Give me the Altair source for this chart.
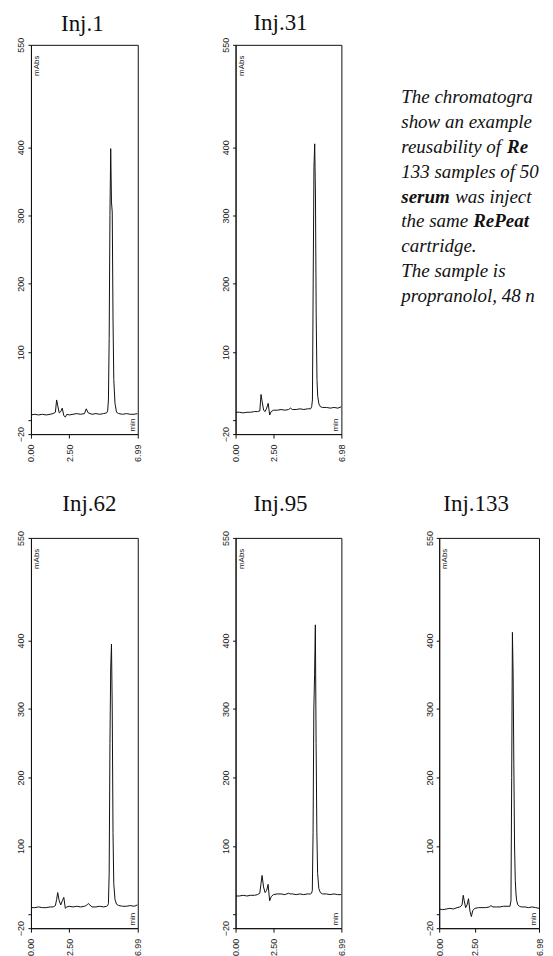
import altair as alt
import pandas as pd

# ---------------- data ----------------
times = [0.00, 0.25, 0.50, 0.75, 1.00, 1.25, 1.45, 1.60, 1.68, 1.75, 1.85, 1.95,
         2.05, 2.15, 2.25, 2.35, 2.50, 2.75, 3.00, 3.25, 3.50, 3.62, 3.75, 4.00,
         4.25, 4.50, 4.75, 4.95, 5.02, 5.07, 5.12, 5.17, 5.22, 5.27, 5.32, 5.37,
         5.42, 5.50, 5.60, 5.75, 6.00, 6.25, 6.50, 6.75, 6.98]

inj1 = [8, 9, 8, 9, 8, 9, 10, 12, 30, 22, 11, 13, 18, 7, 5, 9, 8, 9, 10, 9, 10, 17,
        11, 9, 10, 9, 10, 11, 14, 30, 120, 300, 398, 320, 305, 150, 60, 25, 12, 10,
        9, 10, 9, 9, 10]
inj31 = [12, 12, 11, 12, 12, 13, 13, 14, 38, 28, 15, 13, 18, 25, 8, 13, 15, 15, 16,
         15, 16, 18, 16, 16, 17, 16, 17, 17, 20, 30, 200, 370, 405, 330, 150, 60, 35,
         24, 20, 19, 19, 18, 19, 18, 20]
inj62 = [10, 10, 11, 10, 10, 11, 11, 13, 22, 32, 20, 14, 20, 25, 9, 11, 12, 11, 12,
         11, 12, 13, 16, 11, 11, 12, 11, 12, 13, 16, 60, 250, 360, 395, 300, 120, 45,
         22, 15, 13, 12, 12, 13, 12, 14]
inj95 = [27, 27, 28, 27, 28, 28, 29, 31, 45, 57, 40, 32, 35, 44, 20, 26, 29, 30, 30,
         29, 31, 30, 30, 29, 30, 29, 30, 30, 31, 35, 120, 300, 350, 423, 250, 120, 60,
         38, 32, 30, 30, 29, 30, 29, 29]
inj133 = [8, 7, 8, 9, 8, 10, 11, 14, 28, 20, 10, 14, 23, 5, -3, 6, 9, 10, 10, 10, 11,
          13, 11, 11, 11, 12, 12, 12, 20, 200, 412, 350, 220, 100, 50, 30, 20, 14, 12,
          11, 11, 10, 11, 10, 9]

panel_names = ["Inj.1", "Inj.31", "Inj.62", "Inj.95", "Inj.133"]
run_end = [6.99, 6.98, 6.99, 6.99, 6.98]
y_ticks = [-20, 0, 100, 200, 300, 400, 550]
y_unit = "mAbs"
x_unit = "min"

seg_line = [0, 1, 2, 2, 3, 4, 4, 5, 5, 6, 7, 8]
seg_text = ["The chromatograms", "show an example of the", "reusability of", "RePeat.",
            "133 samples of 50 µl", "serum", "was injected on", "the same", "RePeat",
            "cartridge.", "The sample is", "propranolol, 48 ng/ml"]
seg_bold = [False, False, False, True, False, True, False, False, True, False, False, False]

# ---------------- layout constants ----------------
seg_x = [0, 0, 0, 106, 0, 0, 54, 0, 72, 0, 0, 0]
COL_W = [107, 106, 100]
TOP_H, BOT_H = 390, 391
NOTE_DX = -38          # note starts left of the third column's frame
NOTE_Y0 = 58           # baseline of first note line, below the row top
NOTE_ROOM = 143        # visible width of the note before the page edge


def panel(title, vals, t_end, w, h, toff, tdx):
    df = pd.DataFrame({"t": times, "v": vals})
    x = alt.X("t:Q",
              scale=alt.Scale(domain=[0, t_end], nice=False, zero=False),
              axis=alt.Axis(values=[0, 2.5, t_end], format=".2f", labelAngle=270,
                            labelAlign="right", labelBaseline="middle",
                            title=None, tickSize=4, labelPadding=6, labelFlush=False,
                            labelOverlap=False))
    y = alt.Y("v:Q",
              scale=alt.Scale(domain=[-20, 550], nice=False, zero=False),
              axis=alt.Axis(values=y_ticks,
                            labelExpr="datum.value === 0 ? '' : datum.label",
                            labelAngle=270, labelAlign="center", labelBaseline="bottom",
                            title=None, tickSize=3, labelPadding=2,
                            labelFlush=False, labelOverlap=False))
    trace = alt.Chart(df).mark_line(color="#111", strokeWidth=1, clip=True).encode(x=x, y=y)
    one = pd.DataFrame({"k": [0]})
    small = dict(angle=270, font="Liberation Sans", fontSize=8, color="#222",
                 align="center", baseline="middle")
    mabs = alt.Chart(one).mark_text(**small).encode(
        x=alt.value(6), y=alt.value(21), text=alt.value(y_unit))
    mins = alt.Chart(one).mark_text(**small).encode(
        x=alt.value(w - 5), y=alt.value(h - 9), text=alt.value(x_unit))
    ttl = alt.Chart(one).mark_text(font="Liberation Serif", fontSize=23, color="#111",
                                   align="center", baseline="alphabetic").encode(
        x=alt.value(w / 2 + tdx), y=alt.value(-toff), text=alt.value(title))
    return alt.layer(trace, mabs, mins, ttl).properties(width=w, height=h)


p1 = panel(panel_names[0], inj1, run_end[0], COL_W[0], TOP_H, 14, -2)
p2 = panel(panel_names[1], inj31, run_end[1], COL_W[1], TOP_H, 15, -8)
p3 = panel(panel_names[2], inj62, run_end[2], COL_W[0], BOT_H, 27, 5)
p4 = panel(panel_names[3], inj95, run_end[3], COL_W[1], BOT_H, 27, -8)
p5 = panel(panel_names[4], inj133, run_end[4], COL_W[2], BOT_H, 27, -13)

seg_df = pd.DataFrame({"line": seg_line, "x": seg_x, "text": seg_text, "bold": seg_bold})
xenc = alt.X("x:Q", scale=alt.Scale(domain=[0, COL_W[2]], range=[0, COL_W[2]]), axis=None)
yenc = alt.Y("line:Q", scale=alt.Scale(domain=[0, 8], range=[NOTE_Y0, NOTE_Y0 + 200]),
             axis=None)
note_layers = []
for off, is_bold in sorted(set(zip(seg_x, seg_bold))):
    style = dict(align="left", baseline="alphabetic", font="Liberation Serif",
                 fontStyle="italic", fontSize=19, color="#111", dx=NOTE_DX,
                 limit=NOTE_ROOM - off, ellipsis=" ")
    if is_bold:
        style["fontWeight"] = "bold"
    cond = f"datum.x === {off} && datum.bold === {'true' if is_bold else 'false'}"
    note_layers.append(
        alt.Chart(seg_df).transform_filter(cond).mark_text(**style).encode(
            x=xenc, y=yenc, text="text:N"))
note = alt.layer(*note_layers).properties(
    width=COL_W[2], height=TOP_H, view=alt.ViewBackground(strokeOpacity=0))

chart = alt.concat(
    p1, p2, note, p3, p4, p5, columns=3, bounds="flush",
    spacing={"row": 104, "column": 98},
).properties(
    padding={"left": 8, "top": 2, "right": 0, "bottom": 0},
    background="white",
).configure_view(stroke="#111", strokeWidth=1).configure_axis(
    domainColor="#111", tickColor="#111", labelColor="#222",
    labelFont="Liberation Sans", labelFontSize=9, grid=False, domainWidth=1)

chart.save("out.html", embed_options={"renderer": "svg", "actions": False})
